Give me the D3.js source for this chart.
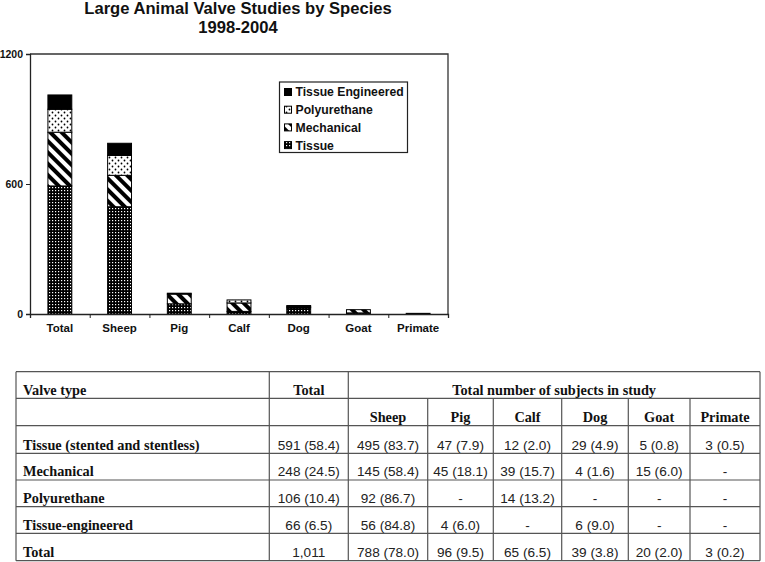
<!DOCTYPE html>
<html>
<head>
<meta charset="utf-8">
<script src="https://cdn.jsdelivr.net/npm/d3@7"></script>
<style>
  html, body { margin: 0; padding: 0; background: #fff; }
  svg { display: block; }
</style>
</head>
<body>
<svg id="chart" width="765" height="562"></svg>
<script>
// ---------- data ----------
const categories = ["Total", "Sheep", "Pig", "Calf", "Dog", "Goat", "Primate"];
const tissue = [591, 495, 47, 12, 29, 5, 3];
const mechanical = [248, 145, 45, 39, 4, 15, 0];
const polyurethane = [106, 92, 0, 14, 0, 0, 0];
const tissueEngineered = [66, 56, 4, 0, 6, 0, 0];
const seriesNames = ["Tissue", "Mechanical", "Polyurethane", "Tissue Engineered"];
const yTicks = [0, 600, 1200];

const tableSpecies = ["Sheep", "Pig", "Calf", "Dog", "Goat", "Primate"];
const tableRowLabels = ["Tissue (stented and stentless)", "Mechanical", "Polyurethane", "Tissue-engineered", "Total"];
const tableTotals = ["591 (58.4)", "248 (24.5)", "106 (10.4)", "66 (6.5)", "1,011"];
const tableSheep = ["495 (83.7)", "145 (58.4)", "92 (86.7)", "56 (84.8)", "788 (78.0)"];
const tablePig = ["47 (7.9)", "45 (18.1)", "-", "4 (6.0)", "96 (9.5)"];
const tableCalf = ["12 (2.0)", "39 (15.7)", "14 (13.2)", "-", "65 (6.5)"];
const tableDog = ["29 (4.9)", "4 (1.6)", "-", "6 (9.0)", "39 (3.8)"];
const tableGoat = ["5 (0.8)", "15 (6.0)", "-", "-", "20 (2.0)"];
const tablePrimate = ["3 (0.5)", "-", "-", "-", "3 (0.2)"];

// ---------- setup ----------
const svg = d3.select("#chart");
const SANS = "'Liberation Sans', Arial, sans-serif";
const SERIF = "'Liberation Serif', 'Times New Roman', serif";

const defs = svg.append("defs");
// Tissue: dark grid with white dots
const pT = defs.append("pattern").attr("id", "pTissue").attr("patternUnits", "userSpaceOnUse")
  .attr("width", 3).attr("height", 3);
pT.append("rect").attr("width", 3).attr("height", 3).attr("fill", "#000");
pT.append("rect").attr("x", 1).attr("y", 1).attr("width", 1.2).attr("height", 1.2).attr("fill", "#fff");
// Mechanical: diagonal stripes
const pM = defs.append("pattern").attr("id", "pMech").attr("patternUnits", "userSpaceOnUse")
  .attr("width", 8).attr("height", 8).attr("patternTransform", "rotate(45)");
pM.append("rect").attr("width", 8).attr("height", 8).attr("fill", "#fff");
pM.append("rect").attr("width", 8).attr("height", 4).attr("fill", "#000");
// Polyurethane: sparse dots
const pP = defs.append("pattern").attr("id", "pPoly").attr("patternUnits", "userSpaceOnUse")
  .attr("width", 6).attr("height", 6);
pP.append("rect").attr("width", 6).attr("height", 6).attr("fill", "#fff");
pP.append("circle").attr("cx", 1.5).attr("cy", 1.5).attr("r", 0.9).attr("fill", "#000");
pP.append("circle").attr("cx", 4.5).attr("cy", 4.5).attr("r", 0.9).attr("fill", "#000");

const fills = {
  "Tissue": "url(#pTissue)",
  "Mechanical": "url(#pMech)",
  "Polyurethane": "url(#pPoly)",
  "Tissue Engineered": "#000"
};

// ---------- title ----------
const title = svg.append("text").attr("x", 238).attr("text-anchor", "middle")
  .attr("font-family", SANS).attr("font-weight", "bold").attr("font-size", 16.6).attr("fill", "#111");
title.append("tspan").attr("x", 238).attr("y", 14).text("Large Animal Valve Studies by Species");
title.append("tspan").attr("x", 238).attr("y", 33).text("1998-2004");

// ---------- scales ----------
const plotL = 30, plotR = 448, plotT = 54, plotB = 314;
const x = d3.scaleBand().domain(categories).range([plotL, plotR]).paddingInner(0.6).paddingOuter(0.3);
const y = d3.scaleLinear().domain([0, 1200]).range([plotB, plotT]);
const xIdx = d3.scaleLinear().domain([0, categories.length]).range([plotL, plotR]);

// plot frame (top & right)
svg.append("path")
  .attr("d", `M${plotL},${plotT}H${plotR}V${plotB}`)
  .attr("fill", "none").attr("stroke", "#333").attr("stroke-width", 1.3);

// ---------- stacked bars ----------
const rows = categories.map((c, i) => ({
  cat: c,
  "Tissue": tissue[i],
  "Mechanical": mechanical[i],
  "Polyurethane": polyurethane[i],
  "Tissue Engineered": tissueEngineered[i]
}));
const stacked = d3.stack().keys(seriesNames)(rows);

svg.append("g").selectAll("g").data(stacked).join("g")
  .attr("fill", d => fills[d.key])
  .selectAll("rect").data(d => d.filter(s => s[1] - s[0] > 0)).join("rect")
  .attr("x", d => x(d.data.cat))
  .attr("width", x.bandwidth())
  .attr("y", d => y(d[1]))
  .attr("height", d => y(d[0]) - y(d[1]))
  .attr("stroke", "#000").attr("stroke-width", 1);

// ---------- axes ----------
const yAxis = svg.append("g").attr("transform", `translate(${plotL},0)`)
  .call(d3.axisLeft(y).tickValues(yTicks).tickSize(4).tickPadding(3).tickFormat(d3.format("d")));
yAxis.select(".domain").attr("stroke", "#222").attr("stroke-width", 1.3);
yAxis.selectAll(".tick line").attr("stroke", "#222");
yAxis.selectAll("text").attr("font-family", SANS).attr("font-weight", "bold").attr("font-size", 10.5).attr("fill", "#111");

const xTickAxis = svg.append("g").attr("transform", `translate(0,${plotB})`)
  .call(d3.axisBottom(xIdx).tickValues(d3.range(categories.length + 1)).tickSize(4).tickFormat(""));
xTickAxis.select(".domain").attr("stroke", "#222").attr("stroke-width", 1.3);
xTickAxis.selectAll(".tick line").attr("stroke", "#222");

const xAxis = svg.append("g").attr("transform", `translate(0,${plotB})`)
  .call(d3.axisBottom(x).tickSize(0).tickPadding(10));
xAxis.select(".domain").remove();
xAxis.selectAll("text").attr("font-family", SANS).attr("font-weight", "bold").attr("font-size", 11.5).attr("fill", "#111");

// ---------- legend ----------
const legend = svg.append("g");
legend.append("rect").attr("x", 279.5).attr("y", 82).attr("width", 128).attr("height", 70.5)
  .attr("fill", "#fff").attr("stroke", "#222").attr("stroke-width", 1.2);
const legendOrder = seriesNames.slice().reverse();
legendOrder.forEach((name, i) => {
  const cy = 92 + i * 17.7;
  legend.append("rect").attr("x", 284.5).attr("y", cy - 3.5).attr("width", 7).attr("height", 7)
    .attr("fill", fills[name]).attr("stroke", "#000").attr("stroke-width", 1);
  legend.append("text").attr("x", 295.5).attr("y", cy + 4.4)
    .attr("font-family", SANS).attr("font-weight", "bold").attr("font-size", 12.2).attr("fill", "#111")
    .text(name);
});

// ---------- table ----------
const tbl = svg.append("g");
const colX = [16, 269.3, 348.3, 427.7, 493.3, 561.7, 628.3, 690, 760];
const rowY = [371.7, 398.3, 425.7, 453.3, 480, 506.7, 533.3, 560.7];
const lineCol = "#555";

// horizontal lines
rowY.forEach(yy => {
  tbl.append("line").attr("x1", colX[0]).attr("x2", colX[colX.length - 1])
    .attr("y1", yy).attr("y2", yy).attr("stroke", lineCol).attr("stroke-width", 1.2);
});
// vertical lines
colX.forEach((xx, j) => {
  const y1 = (j >= 3 && j <= 7) ? rowY[1] : rowY[0];
  tbl.append("line").attr("x1", xx).attr("x2", xx)
    .attr("y1", y1).attr("y2", rowY[rowY.length - 1]).attr("stroke", lineCol).attr("stroke-width", 1.2);
});

const base = i => rowY[i + 1] - 3.8;
const head = (t, xx, yy, anchor) => tbl.append("text").attr("x", xx).attr("y", yy)
  .attr("text-anchor", anchor).attr("font-family", SERIF).attr("font-weight", "bold")
  .attr("font-size", 14.3).attr("fill", "#111").text(t);
const cell = (t, xx, yy) => tbl.append("text").attr("x", xx).attr("y", yy)
  .attr("text-anchor", "middle").attr("font-family", SANS)
  .attr("font-size", 13.6).attr("fill", "#222").text(t);

head("Valve type", 23, base(0), "start");
head("Total", (colX[1] + colX[2]) / 2, base(0), "middle");
head("Total number of subjects in study", (colX[2] + colX[8]) / 2, base(0), "middle");
tableSpecies.forEach((s, j) => head(s, (colX[j + 2] + colX[j + 3]) / 2, base(1), "middle"));

const speciesCols = [tableSheep, tablePig, tableCalf, tableDog, tableGoat, tablePrimate];
tableRowLabels.forEach((lab, i) => {
  head(lab, 23, base(i + 2), "start");
  cell(tableTotals[i], (colX[1] + colX[2]) / 2, base(i + 2));
  speciesCols.forEach((col, j) => cell(col[i], (colX[j + 2] + colX[j + 3]) / 2, base(i + 2)));
});
</script>
</body>
</html>
